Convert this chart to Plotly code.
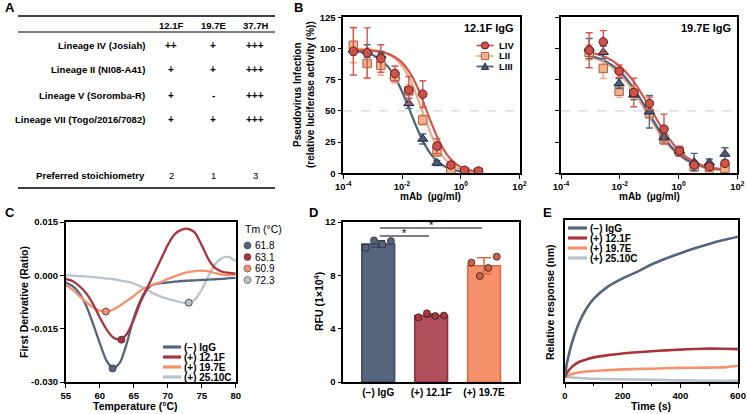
import plotly.graph_objects as go

W, H = 747, 414
def X(px): return px / W
def Y(py): return 1 - py / H

FONT = "Liberation Sans, Arial, Helvetica, sans-serif"

# ---------------- DATA ----------------
# Panel A table
table_cols = ["12.1F", "19.7E", "37.7H"]
table_rows = ["Lineage IV (Josiah)", "Lineage II (NI08-A41)",
              "Lineage V (Soromba-R)", "Lineage VII (Togo/2016/7082)"]
table_vals = [["++", "+", "+++"], ["+", "+", "+++"], ["+", "-", "+++"], ["+", "+", "+++"]]
stoich_label = "Preferred stoichiometry"
stoich_vals = ["2", "1", "3"]

# Panel B left (12.1F IgG): doses (ug/ml) and % infection
b1_dose = [0.00022, 0.00065, 0.0019, 0.0057, 0.017, 0.051, 0.155, 0.46, 1.35, 4.0]
b1_LIV = [97.8, 96.5, 92, 80, 66.6, 63.4, 21.8, 6.6, 2.4, 1.8]
b1_LIV_err = [19, 20, 11, 6, 11, 10.7, 6, 2, 1.5, 1]
b1_LII = [102.6, 88, 86.6, 77.4, 66, 42.7, 17.4, 1.5, 0.8, 0.8]
b1_LII_err = [14, 12, 8, 5, 5, 4, 4, 1, 1, 1]
b1_LIII = [99, 98, 94.6, 78, 56, 27.5, 8.3, 1, 0.5, 0.5]
b1_LIII_err = [4, 5, 3, 3, 4, 4, 2, 1, 1, 1]
b1_fit_logx = [-3.69, -3.5, -3.0, -2.5, -2.25, -2.0, -1.75, -1.5, -1.25, -1.0, -0.75, -0.5, -0.25, 0.0, 0.3, 0.6]
b1_fit_LIV = [98.8, 98.7, 98.1, 95.9, 93.2, 88.7, 81.2, 70.1, 55.7, 40.2, 26.4, 16.0, 9.2, 5.1, 2.5, 1.2]
b1_fit_LII = [99.8, 99.7, 98.9, 95.9, 92.3, 86.1, 76.2, 62.3, 46.0, 30.6, 18.5, 10.5, 5.7, 3.0, 1.4, 0.6]
b1_fit_LIII = [98.2, 97.7, 94.7, 85.9, 77.5, 65.6, 51.3, 36.7, 24.0, 14.8, 8.7, 4.9, 2.75, 1.5, 0.75, 0.36]

# Panel B right (19.7E IgG)
b2_dose = [0.00091, 0.00275, 0.0095, 0.030, 0.102, 0.32, 1.07, 3.4, 11.2, 38.0]
b2_LIV = [98.6, 105.3, 81.8, 64.8, 56, 35.4, 17.8, 6.6, 5.3, 8]
b2_LIV_err = [14, 9, 5, 11.5, 5, 12, 4, 2, 2, 2]
b2_LII = [97, 84, 65.8, 64, 48, 27.4, 17.3, 5.3, 4.5, 4]
b2_LII_err = [6, 8, 5, 5, 4, 4, 3, 2, 2, 2]
b2_LIII = [100, 97, 72, 63, 49.3, 29, 18, 9, 8.5, 15.5]
b2_LIII_err = [8, 5, 4, 4, 13, 3, 3, 7, 3, 5]
b2_fit_logx = [-3.04, -2.5, -2.0, -1.5, -1.0, -0.5, 0.0, 0.5, 1.0, 1.58]
b2_fit_LIV = [97.2, 93.3, 85.9, 72.7, 53.7, 33.7, 18.5, 9.5, 5.0, 3.0]
b2_fit_LII = [93.4, 88.6, 79.6, 64.7, 45.3, 26.8, 14.5, 7.5, 4.0, 2.5]
b2_fit_LIII = [94.6, 90.1, 81.7, 67.2, 47.8, 28.7, 15.5, 8.0, 4.5, 2.8]

# Panel C: first derivative of melt curves
c_temp = list(range(55, 81))
c_IgG = [-0.0020, -0.0030, -0.0050, -0.0085, -0.0135, -0.0190, -0.0240, -0.0262, -0.0245, -0.0190,
         -0.0120, -0.0070, -0.0038, -0.0025, -0.0022, -0.0020, -0.0018, -0.0016, -0.0015, -0.0014,
         -0.0013, -0.0012, -0.0011, -0.0010, -0.0008, -0.0007]
c_121F = [-0.0011, -0.0016, -0.0030, -0.0050, -0.0080, -0.0118, -0.0152, -0.0175, -0.0181, -0.0165,
          -0.0125, -0.0075, -0.0035, 0.0005, 0.0045, 0.0085, 0.0115, 0.0128, 0.0131, 0.0120,
          0.0085, 0.0045, 0.0020, 0.0010, 0.0007, 0.0005]
c_197E = [-0.0027, -0.0040, -0.0058, -0.0075, -0.0090, -0.0099, -0.0102, -0.0096, -0.0085, -0.0072,
          -0.0058, -0.0043, -0.0032, -0.0025, -0.0019, -0.0010, -0.0003, 0.0004, 0.0009, 0.0012,
          0.0013, 0.0011, 0.0006, 0.0002, 0.0001, 0.0002]
c_2510C = [0.0000, -0.0001, -0.0002, -0.0003, -0.0005, -0.0007, -0.0009, -0.0011, -0.0014, -0.0018,
           -0.0023, -0.0031, -0.0041, -0.0052, -0.0060, -0.0066, -0.0071, -0.0076, -0.0078, -0.0068,
           -0.0040, -0.0002, 0.0032, 0.0049, 0.0052, 0.0040]
c_names = ["(\u2212) IgG", "(+) 12.1F", "(+) 19.7E", "(+) 25.10C"]
c_tm = ["61.8", "63.1", "60.9", "72.3"]
c_tm_x = [61.9, 63.2, 60.9, 73.1]
c_tm_y = [-0.0262, -0.0181, -0.0102, -0.0077]

# Panel D: RFU (x1e4)
d_labels = ["(\u2212) IgG", "(+) 12.1F", "(+) 19.7E"]
d_means = [10.35, 4.98, 8.72]
d_sd = [0.25, 0.12, 0.6]
d_reps = [[10.07, 10.62, 10.32, 10.57], [4.85, 5.15, 4.95, 4.98], [8.95, 7.95, 8.55, 9.4]]
d_sig_pairs = [(0, 1), (0, 2)]
d_sig_level = [10.95, 11.55]

# Panel E: BLI relative response
e_time = [0, 5, 10, 25, 50, 75, 100, 150, 200, 250, 300, 350, 400, 450, 500, 550, 600]
e_IgG = [0.03, 0.10, 0.144, 0.247, 0.37, 0.455, 0.515, 0.59, 0.64, 0.68, 0.725, 0.762, 0.795, 0.825, 0.852, 0.876, 0.897]
e_121F = [0.03, 0.05, 0.065, 0.095, 0.125, 0.14, 0.152, 0.166, 0.176, 0.184, 0.19, 0.195, 0.2, 0.204, 0.206, 0.205, 0.203]
e_197E = [0.03, 0.035, 0.04, 0.05, 0.06, 0.065, 0.068, 0.073, 0.078, 0.08, 0.082, 0.085, 0.087, 0.088, 0.089, 0.09, 0.1]
e_2510C = [0.03, 0.03, 0.03, 0.028, 0.025, 0.022, 0.02, 0.018, 0.016, 0.015, 0.014, 0.012, 0.01, 0.009, 0.007, 0.007, 0.01]

# ---------------- STYLE ----------------
C_IGG, C_121F, C_197E, C_2510C = "#56657f", "#a8343c", "#f5916d", "#b9c3cc"
cmp_colors = [C_IGG, C_121F, C_197E, C_2510C]
LIV_line, LIV_fill, LIV_edge = "#d4574e", "#cf5248", "#5a1e1e"
LII_line, LII_fill, LII_edge = "#f0aa88", "#f2b08e", "#a8643f"
LIII_line, LIII_fill, LIII_edge = "#4f6484", "#4a5b7a", "#1f2a3c"

TICKF = dict(family=FONT, size=9.5, color="black", weight="bold")

fig = go.Figure()

def axstyle(**kw):
    d = dict(showline=True, linewidth=1.5, linecolor="black", mirror=True, showgrid=False,
             zeroline=False, ticks="outside", ticklen=4, tickwidth=1.3, tickcolor="black",
             tickfont=TICKF, fixedrange=True, automargin=False)
    d.update(kw)
    return d

log_ticks = [1e-4, 1e-2, 1, 1e2]
log_text = ["10<sup>-4</sup>", "10<sup>-2</sup>", "10<sup>0</sup>", "10<sup>2</sup>"]

layout = dict(
    template="none",
    width=W, height=414, margin=dict(l=0, r=0, t=0, b=0, pad=0, autoexpand=False), autosize=False,
    paper_bgcolor="white", plot_bgcolor="white", showlegend=False,
    font=dict(family=FONT, color="black"),
    xaxis=axstyle(domain=[X(343.3), X(519.5)], anchor="y", type="log", range=[-4, 2],
                  tickvals=log_ticks, ticktext=log_text),
    yaxis=axstyle(domain=[Y(173.3), Y(17.3)], anchor="x", range=[0, 125],
                  tickvals=[0, 25, 50, 75, 100, 125]),
    xaxis2=axstyle(domain=[X(561), X(737.3)], anchor="y2", type="log", range=[-4, 2],
                   tickvals=log_ticks, ticktext=log_text),
    yaxis2=axstyle(domain=[Y(173.3), Y(17.3)], anchor="x2", range=[0, 125],
                   tickvals=[0, 25, 50, 75, 100, 125], showticklabels=False),
    xaxis3=axstyle(domain=[X(65.7), X(235.7)], anchor="y3", range=[55, 80],
                   tickvals=[55, 60, 65, 70, 75, 80]),
    yaxis3=axstyle(domain=[Y(382), Y(222)], anchor="x3", range=[-0.030, 0.015],
                   tickvals=[-0.030, -0.015, 0.0, 0.015],
                   ticktext=["-0.030", "-0.015", "0.000", "0.015"]),
    xaxis4=axstyle(domain=[X(343.3), X(519)], anchor="y4", range=[-0.66, 2.66],
                   tickvals=[0, 1, 2], ticktext=d_labels, ticks="",
                   tickfont=dict(family=FONT, size=10, color="black", weight="bold")),
    yaxis4=axstyle(domain=[Y(382), Y(222)], anchor="x4", range=[0, 12],
                   tickvals=[0, 4, 8, 12]),
    xaxis5=axstyle(domain=[X(565), X(738)], anchor="y5", range=[0, 600],
                   tickvals=[0, 200, 400, 600],
                   minor=dict(tickvals=[100, 300, 500], ticks="outside", ticklen=2.5,
                              tickwidth=1.2, tickcolor="black")),
    yaxis5=axstyle(domain=[Y(382), Y(220)], anchor="x5", range=[0, 1], ticks="",
                   showticklabels=False),
)

# ---- Panel B traces ----
def add_b(xa, ya, doses, fit_logx, series):
    for (vals, errs, fit, lc, fc, ec, sym) in series:
        fig.add_trace(go.Scatter(x=[10 ** v for v in fit_logx], y=fit, mode="lines",
                                 line=dict(color=lc, width=2.2, shape="spline", smoothing=0.8),
                                 xaxis=xa, yaxis=ya, hoverinfo="skip"))
    for (vals, errs, fit, lc, fc, ec, sym) in series:
        fig.add_trace(go.Scatter(x=doses, y=vals, mode="markers",
                                 error_y=dict(type="data", array=errs, color=lc, thickness=1.4, width=3.5),
                                 marker=dict(symbol=sym, size=8.5 if sym != "triangle-up" else 9,
                                             color=fc, line=dict(color=ec, width=1)),
                                 xaxis=xa, yaxis=ya))

add_b("x", "y", b1_dose, b1_fit_logx, [
    (b1_LIII, b1_LIII_err, b1_fit_LIII, LIII_line, LIII_fill, LIII_edge, "triangle-up"),
    (b1_LII, b1_LII_err, b1_fit_LII, LII_line, LII_fill, LII_edge, "square"),
    (b1_LIV, b1_LIV_err, b1_fit_LIV, LIV_line, LIV_fill, LIV_edge, "circle"),
])
add_b("x2", "y2", b2_dose, b2_fit_logx, [
    (b2_LII, b2_LII_err, b2_fit_LII, LII_line, LII_fill, LII_edge, "square"),
    (b2_LIII, b2_LIII_err, b2_fit_LIII, LIII_line, LIII_fill, LIII_edge, "triangle-up"),
    (b2_LIV, b2_LIV_err, b2_fit_LIV, LIV_line, LIV_fill, LIV_edge, "circle"),
])

# ---- Panel C traces ----
for ys, col in zip([c_2510C, c_IgG, c_197E, c_121F], [C_2510C, C_IGG, C_197E, C_121F]):
    fig.add_trace(go.Scatter(x=c_temp, y=ys, mode="lines",
                             line=dict(color=col, width=2.3, shape="spline", smoothing=0.6),
                             xaxis="x3", yaxis="y3"))
fig.add_trace(go.Scatter(x=c_tm_x, y=c_tm_y, mode="markers",
                         marker=dict(size=7, color=cmp_colors, line=dict(color="#333333", width=0.8)),
                         xaxis="x3", yaxis="y3"))

# ---- Panel D traces ----
bar_fill = ["#56647e", "#b0505a", "#f5906c"]
bar_edge = ["#3c4860", "#922f39", "#e06a45"]
dot_fill = ["#56647e", "#ad3540", "#d0603e"]
dot_offsets = [-0.24, -0.08, 0.08, 0.24]
for i in range(3):
    fig.add_trace(go.Bar(x=[i], y=[d_means[i]], width=0.62, marker=dict(color=bar_fill[i],
                         line=dict(color=bar_edge[i], width=1.5)),
                         error_y=dict(type="data", array=[d_sd[i]], color=bar_edge[i], thickness=1.5, width=7),
                         xaxis="x4", yaxis="y4"))
for i in range(3):
    fig.add_trace(go.Scatter(x=[i + o for o in dot_offsets], y=d_reps[i], mode="markers",
                             marker=dict(size=7, color=dot_fill[i], line=dict(color="#2a2a2a", width=0.8)),
                             xaxis="x4", yaxis="y4"))

# ---- Panel E traces ----
for ys, col in zip([e_2510C, e_197E, e_121F, e_IgG], [C_2510C, C_197E, C_121F, C_IGG]):
    fig.add_trace(go.Scatter(x=e_time, y=ys, mode="lines",
                             line=dict(color=col, width=2.6, shape="spline", smoothing=0.8),
                             xaxis="x5", yaxis="y5"))

# ---------------- SHAPES & ANNOTATIONS ----------------
shapes = []
ann = []

def text(px, py, s, size=10, bold=True, xanchor="center", yanchor="middle", angle=0, color="black"):
    ann.append(dict(x=X(px), y=Y(py), xref="paper", yref="paper", text=s, showarrow=False,
                    xanchor=xanchor, yanchor=yanchor, textangle=angle,
                    font=dict(family=FONT, size=size, color=color, weight="bold" if bold else "normal")))

def hline(x0, x1, py, width=1.2, color="black", dash=None):
    ln = dict(color=color, width=width)
    if dash:
        ln["dash"] = dash
    shapes.append(dict(type="line", xref="paper", yref="paper", x0=X(x0), x1=X(x1),
                       y0=Y(py), y1=Y(py), line=ln))

# Panel letters
text(3, 8, "A", size=13, xanchor="left")
text(292, 8, "B", size=13, xanchor="left")
text(3, 213, "C", size=13, xanchor="left")
text(307, 213, "D", size=13, xanchor="left")
text(541, 213, "E", size=13, xanchor="left")

# Panel A table
hline(18, 275, 16, width=1.6)
hline(18, 275, 32, width=1.0)
hline(18, 275, 188, width=1.4)
col_x = [171, 213, 255]
row_y = [45, 70, 95, 119.5]
for cx, c in zip(col_x, table_cols):
    text(cx, 25, c, size=9.5)
for ry, lab, vals in zip(row_y, table_rows, table_vals):
    text(147, ry, lab, size=9.6, xanchor="right")
    for cx, v in zip(col_x, vals):
        text(cx, ry, v, size=10)
text(147, 175, stoich_label, size=9.6, xanchor="right")
for cx, v in zip(col_x, stoich_vals):
    text(cx, 175, v, size=9.5, bold=False)

# Panel B decorations
for xa in ["x", "x2"]:
    shapes.append(dict(type="line", xref=xa + " domain", yref="y" + xa[1:], x0=0, x1=1, y0=50, y1=50,
                       line=dict(color="#d6d6d6", width=1.2, dash="dash"), layer="below"))
text(304, 95, "Pseudovirus Infection<br>(relative luciferase activity (%))", size=10, angle=-90)
text(431, 196, "mAb  (\u00b5g/ml)", size=10)
text(649, 196, "mAb  (\u00b5g/ml)", size=10)
text(516, 28, "12.1F IgG", size=11, xanchor="right")
text(733, 28, "19.7E IgG", size=11, xanchor="right")
# legend B
leg_b = [("LIV", LIV_line, LIV_fill, LIV_edge, "circle"),
         ("LII", LII_line, LII_fill, LII_edge, "square"),
         ("LIII", LIII_line, LIII_fill, LIII_edge, "triangle")]
for i, (lab, lc, fc, ec, sym) in enumerate(leg_b):
    py = 45.5 + 10.5 * i
    hline(476.5, 493.5, py, width=1.8, color=lc)
    cx, r = 485, 3.6
    if sym == "circle":
        shapes.append(dict(type="circle", xref="paper", yref="paper", x0=X(cx - r), x1=X(cx + r),
                           y0=Y(py + r), y1=Y(py - r), fillcolor=fc, line=dict(color=ec, width=1)))
    elif sym == "square":
        shapes.append(dict(type="rect", xref="paper", yref="paper", x0=X(cx - r), x1=X(cx + r),
                           y0=Y(py + r), y1=Y(py - r), fillcolor=fc, line=dict(color=ec, width=1)))
    else:
        p = "M {} {} L {} {} L {} {} Z".format(X(cx - r), Y(py + r * 0.8), X(cx + r), Y(py + r * 0.8),
                                               X(cx), Y(py - r))
        shapes.append(dict(type="path", xref="paper", yref="paper", path=p, fillcolor=fc,
                           line=dict(color=ec, width=1)))
    text(497.5, py, lab, size=9.5, xanchor="left")

# Panel C decorations
text(24, 302, "First Derivative (Ratio)", size=10.5, angle=-90)
text(135, 406, "Temperature (\u00b0C)", size=10.5)
for i, (nm, col) in enumerate(zip(c_names, cmp_colors)):
    py = 347 + 10 * i
    hline(163, 181, py, width=3.2, color=col)
    text(181.5, py, nm, size=10, xanchor="left")
text(243, 229, "Tm (\u00b0C)", size=10.5, bold=False, xanchor="left")
for i, (tm, col) in enumerate(zip(c_tm, cmp_colors)):
    py = 245.5 + 11.5 * i
    r = 3.5
    shapes.append(dict(type="circle", xref="paper", yref="paper", x0=X(247.5 - r), x1=X(247.5 + r),
                       y0=Y(py + r), y1=Y(py - r), fillcolor=col, line=dict(color="#444444", width=0.6)))
    text(253, py, tm, size=10, bold=False, xanchor="left")

# Panel D decorations
text(318, 302, "RFU (1\u00d710<sup>4</sup>)", size=10.5, angle=-90)
for (a, b), lvl in zip(d_sig_pairs, d_sig_level):
    shapes.append(dict(type="line", xref="x4", yref="y4", x0=a + 0.03, x1=b - 0.04, y0=lvl, y1=lvl,
                       line=dict(color="black", width=1.1)))
    ann.append(dict(x=(a + b) / 2, y=lvl, xref="x4", yref="y4", text="*", showarrow=False,
                    yanchor="middle", font=dict(family=FONT, size=11, color="black"), yshift=3))

# Panel E decorations
text(550, 302, "Relative response (nm)", size=10.5, angle=-90)
text(651, 406, "Time (s)", size=10.5)
for i, (nm, col) in enumerate(zip(c_names, cmp_colors)):
    py = 228 + 10 * i
    hline(568, 587, py, width=3.2, color=col)
    text(587.5, py, nm, size=10, xanchor="left")

layout["shapes"] = shapes
layout["annotations"] = ann
fig.update_layout(**layout)
fig.write_html("out.html", config={"displayModeBar": False},
               post_script="document.body.style.margin='0';document.body.style.padding='0';"
                           "document.body.style.overflow='hidden';")
